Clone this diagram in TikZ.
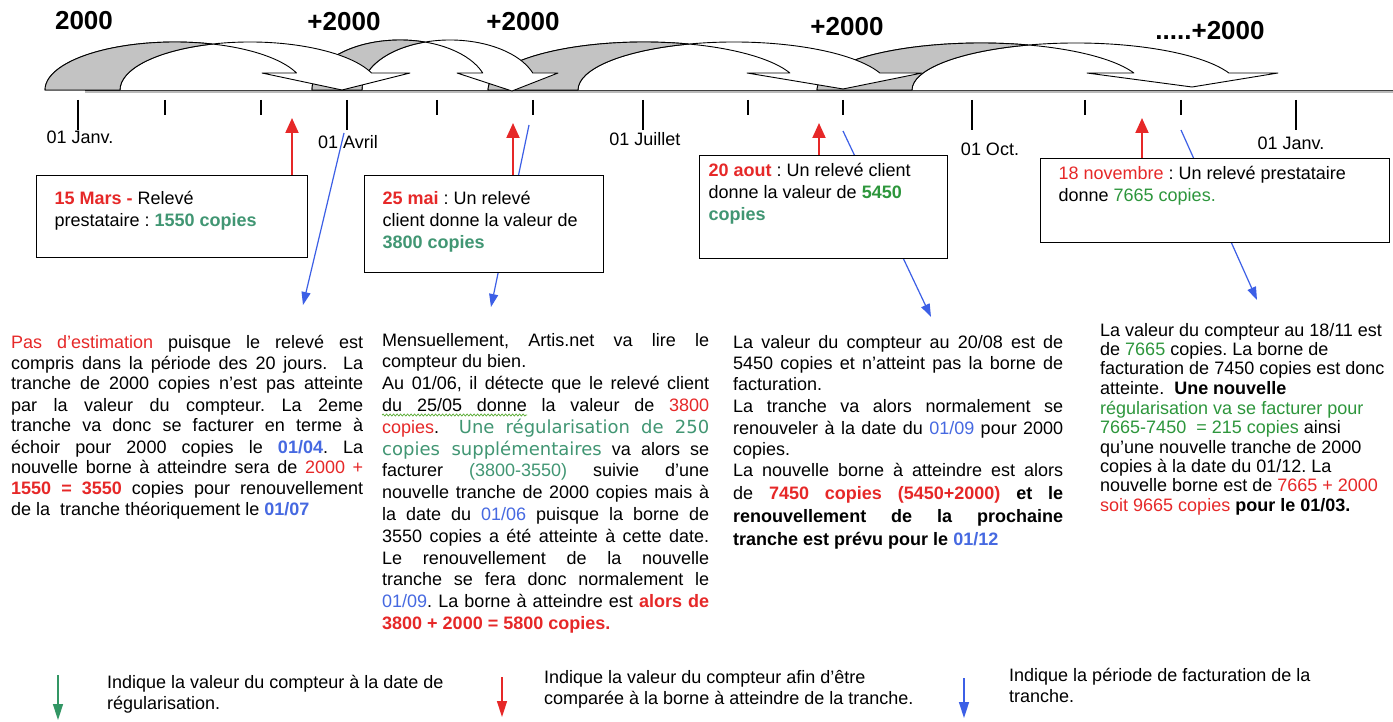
\documentclass[tikz,border=0pt]{standalone}
\usepackage{fontspec}
\setmainfont{Liberation Sans}
\newfontfamily\wideface{DejaVu Sans}
\usetikzlibrary{arrows.meta,decorations.pathmorphing}

\definecolor{redc}{RGB}{230,40,40}
\definecolor{bluec}{RGB}{70,105,225}
\definecolor{bluearrc}{RGB}{60,95,230}
\definecolor{tealc}{RGB}{65,150,115}
\definecolor{greenc}{RGB}{45,150,60}
\definecolor{leggreen}{RGB}{50,150,100}
\definecolor{bandgray}{RGB}{195,195,195}

\newcommand{\jl}[1]{\makebox[\linewidth][s]{#1}}
\newcommand{\redtxt}[1]{\textcolor{redc}{#1}}
\newcommand{\bluetxt}[1]{\textcolor{bluec}{#1}}
\newcommand{\tealtxt}[1]{\textcolor{tealc}{#1}}
\newcommand{\greentxt}[1]{\textcolor{greenc}{#1}}
\frenchspacing

\begin{document}
\begin{tikzpicture}[x=1pt,y=1pt,
  band/.style={draw=black, line width=0.9pt, line join=round},
  tick/.style={draw=black, line width=1.3pt},
  bigtick/.style={draw=black, line width=2.6pt},
  box/.style={draw=black, line width=1.3pt, fill=white, anchor=north west, inner ysep=0pt, font=\fontsize{18}{22}\selectfont},
  para/.style={inner sep=0pt, anchor=base west},
  datelbl/.style={font=\fontsize{18}{21}\selectfont, anchor=base},
  toplbl/.style={font=\fontsize{26}{30}\selectfont\bfseries, anchor=base},
  redarr/.style={draw=redc, line width=2pt, -{Triangle[width=13pt,length=15pt]}},
  bluearr/.style={draw=bluearrc, line width=1.2pt, -{Triangle[width=9pt,length=13pt]}},
  legarr/.style={line width=1.5pt, -{Triangle[width=10pt,length=16pt]}},
  legtxt/.style={inner sep=0pt, anchor=base west, font=\fontsize{18}{21}\selectfont}]

\fill[white] (0,0) rectangle (1393,-722);
\useasboundingbox (0,0) rectangle (1393,-722);

% time line
\draw[gray!55, line width=2.5pt] (85,-92) -- (1393,-92);
\draw[black!75, line width=0.7pt] (85,-90.5) -- (1393,-90.5);

% curved arrows, the back one first
\foreach \xl/\bw/\rad/\hh/\lw/\tx/\ty/\rw in {817/95/164/47/1087/1192/87/1278,488/90/156/48/747/843/89/922,312/50/88/50/457/512/91/558,45/75/130/48/262/342/90/410}{
  \pgfmathsetmacro{\angh}{asin(17/\hh)}
  \pgfmathsetmacro{\angc}{acos(\bw/(2*\rad))}
  \pgfmathsetmacro{\angd}{180-\angc}
  \pgfmathsetmacro{\xend}{\xl+\bw+\rad+\rad*cos(\angh)}
  \draw[band, fill=white] (\xl,-90) arc[start angle=180, end angle=\angh, x radius=\rad pt, y radius=\hh pt] -- (\lw,-73) -- (\tx,-\ty) -- (\rw,-73) -- (\xend,-73) arc[start angle=\angh, end angle=180, x radius=\rad pt, y radius=\hh pt] -- cycle;
  \draw[band, fill=bandgray] (\xl,-90) arc[start angle=180, end angle=\angc, x radius=\rad pt, y radius=\hh pt] arc[start angle=\angd, end angle=180, x radius=\rad pt, y radius=\hh pt] -- cycle;
}

\node[toplbl] (n0) at (84,-30) {2000};
\node[toplbl] (n1) at (344,-31) {+2000};
\node[toplbl] (n2) at (523,-31) {+2000};
\node[toplbl] (n3) at (847,-36) {+2000};
\node[toplbl] (n4) at (1210,-40) {.....+2000};

% months
\foreach \x in {165,261,437,533,748,843,1085,1181}
  \draw[tick] (\x,-100) -- (\x,-115);
\foreach \x in {78,347,643,972,1296}
  \draw[bigtick] (\x,-100) -- (\x,-130);

\node[datelbl] (d1) at (80,-144) {01 Janv.};
\node[datelbl] (d2) at (348,-149) {01 Avril};
\node[datelbl] (d3) at (645,-146) {01 Juillet};
\node[datelbl] (d4) at (990,-156) {01 Oct.};
\node[datelbl] (d5) at (1291,-150) {01 Janv.};

% blue arrows (behind the boxes)
\coordinate (bs1) at (344,-133);
\coordinate (be1) at (303,-305);
\coordinate (bs2) at (529,-125);
\coordinate (be2) at (491,-307);
\coordinate (bs3) at (843,-131);
\coordinate (be3) at (931,-317);
\coordinate (bs4) at (1181,-130);
\coordinate (be4) at (1257,-300);
\draw[bluearr] (bs1) -- (be1);
\draw[bluearr] (bs2) -- (be2);
\draw[bluearr] (bs3) -- (be3);
\draw[bluearr] (bs4) -- (be4);

% boxes
\node[box, inner xsep=18pt] (b1) at (36,-175) {\parbox[t][82pt][t]{235pt}{\rule{0pt}{29pt}\redtxt{\bfseries 15 Mars -} Relevé\\
prestataire : \tealtxt{\bfseries 1550 copies}}};
\node[box, inner xsep=18pt] (b2) at (364,-175) {\parbox[t][97pt][t]{203pt}{\rule{0pt}{29pt}\redtxt{\bfseries 25 mai} : Un relevé\\
client donne la valeur de\\
\tealtxt{\bfseries 3800 copies}}};
\node[box, inner xsep=9pt] (b3) at (699,-155) {\parbox[t][103pt][t]{230pt}{\rule{0pt}{21pt}\redtxt{\bfseries 20 aout} : Un relevé client\\
donne la valeur de \greentxt{\bfseries 5450}\\
\tealtxt{\bfseries copies}}};
\node[box, inner xsep=18pt] (b4) at (1040,-158) {\parbox[t][84pt][t]{313pt}{\rule{0pt}{21pt}\redtxt{18 novembre} : Un relevé prestataire\\
donne \greentxt{7665 copies.}}};

% red arrows
\coordinate (rt1) at (292,-118);
\coordinate (rt2) at (513,-123);
\coordinate (rt3) at (819,-123);
\coordinate (rt4) at (1142,-118);
\draw[redarr] (b1.north -| rt1) -- (rt1);
\draw[redarr] (b2.north -| rt2) -- (rt2);
\draw[redarr] (b3.north -| rt3) -- (rt3);
\draw[redarr] (b4.north -| rt4) -- (rt4);

% texts
\node[para, font=\fontsize{18}{21}\selectfont] (p1) at (11,-348) {\parbox[t]{352pt}{%
\jl{\redtxt{Pas d'estimation} puisque le relevé est}\\
\jl{compris dans la période des 20 jours.\ \ La}\\
\jl{tranche de 2000 copies n'est pas atteinte}\\
\jl{par la valeur du compteur. La 2eme}\\
\jl{tranche va donc se facturer en terme à}\\
\jl{échoir pour 2000 copies le \bluetxt{\bfseries 01/04}. La}\\
\jl{nouvelle borne à atteindre sera de \redtxt{2000 +}}\\
\jl{\redtxt{\bfseries 1550 = 3550} copies pour renouvellement}\\
de la\ \ tranche théoriquement le \bluetxt{\bfseries 01/07}}};

\node[para, font=\fontsize{18}{21.8}\selectfont] (p2) at (382,-346) {\parbox[t]{327pt}{%
\jl{Mensuellement, Artis.net va lire le}\\
compteur du bien.\\
\jl{Au 01/06, il détecte que le relevé client}\\
\jl{du 25/05 donne la valeur de \redtxt{3800}}\\
\jl{\redtxt{copies}.\ \ {\wideface\color{tealc}Une régularisation de 250}}\\
\jl{{\wideface\color{tealc}copies supplémentaires} va alors se}\\
\jl{facturer \tealtxt{(3800-3550)} suivie d'une}\\
\jl{nouvelle tranche de 2000 copies mais à}\\
\jl{la date du \bluetxt{01/06} puisque la borne de}\\
\jl{3550 copies a été atteinte à cette date.}\\
\jl{Le renouvellement de la nouvelle}\\
\jl{tranche se fera donc normalement le}\\
\jl{\bluetxt{01/09}. La borne à atteindre est \redtxt{\bfseries alors de}}\\
\redtxt{\bfseries 3800 + 2000 = 5800 copies.}}};
\draw[greenc!80!yellow, line width=0.7pt, decorate, decoration={snake, amplitude=1pt, segment length=3.5pt}] (382,-415) -- (527,-415);

\node[para, font=\fontsize{18}{21.5}\selectfont] (p3) at (733,-348) {\parbox[t]{330pt}{%
\jl{La valeur du compteur au 20/08 est de}\\
\jl{5450 copies et n'atteint pas la borne de}\\
facturation.\\
\jl{La tranche va alors normalement se}\\
\jl{renouveler à la date du \bluetxt{01/09} pour 2000}\\
copies.\\
\jl{La nouvelle borne à atteindre est alors}\\[1pt]
\jl{de \bfseries\redtxt{7450 copies (5450+2000)} et le}\\[1.5pt]
\jl{\bfseries renouvellement de la prochaine}\\[1.5pt]
{\bfseries tranche est prévu pour le \bluetxt{01/12}}}};

\node[para, font=\fontsize{18}{19.5}\selectfont] (p4) at (1100,-336) {\parbox[t]{293pt}{\raggedright
La valeur du compteur au 18/11 est\\
de \greentxt{7665} copies. La borne de\\
facturation de 7450 copies est donc\\
atteinte.\ \ {\bfseries Une nouvelle}\\
\greentxt{régularisation va se facturer pour}\\
\greentxt{7665-7450\ \ = 215 copies} ainsi\\
qu'une nouvelle tranche de 2000\\
copies à la date du 01/12. La\\
nouvelle borne est de \redtxt{7665 + 2000}\\
\redtxt{soit 9665 copies} {\bfseries pour le 01/03.}}};

% legend
\coordinate (ga) at (58,-675);
\coordinate (gb) at (58,-720);
\coordinate (ra) at (502,-677);
\coordinate (rb) at (502,-717);
\coordinate (la) at (964,-678);
\coordinate (lb) at (964,-718);
\draw[legarr, draw=leggreen] (ga) -- (gb);
\draw[legarr, draw=redc] (ra) -- (rb);
\draw[legarr, draw=bluearrc] (la) -- (lb);
\node[legtxt] (lg1) at (107,-688) {\parbox[t]{400pt}{Indique la valeur du compteur à la date de\\
régularisation.}};
\node[legtxt] (lg2) at (544,-683) {\parbox[t]{400pt}{Indique la valeur du compteur afin d'être\\
comparée à la borne à atteindre de la tranche.}};
\node[legtxt] (lg3) at (1009,-681) {\parbox[t]{380pt}{Indique la période de facturation de la\\
tranche.}};

\end{tikzpicture}
\end{document}
